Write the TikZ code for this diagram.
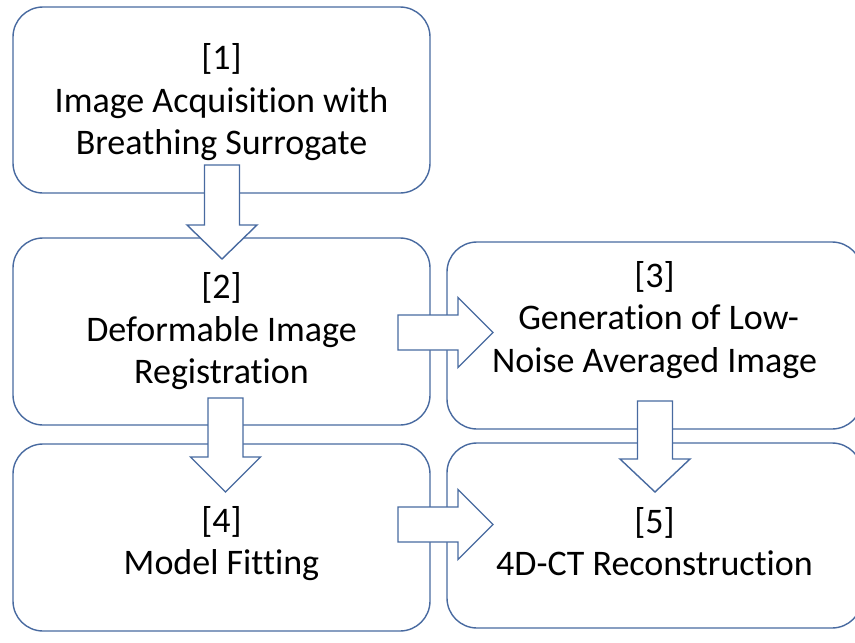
\documentclass[tikz,border=0pt]{standalone}
\usepackage{fontspec}
\setmainfont{Carlito}[Ligatures={NoCommon}]
\definecolor{edge}{RGB}{72,106,160}
\newcommand\downblock[4]{%
  \draw[blockarrow] (#1-17.5,#2) -- (#1+17.5,#2) -- (#1+17.5,#3) -- (#1+35,#3) -- (#1,#4) -- (#1-35,#3) -- (#1-17.5,#3) -- cycle;}
\newcommand\rightblock[4]{%
  \draw[blockarrow] (#2,#1-17.5) -- (#2,#1+17.5) -- (#3,#1+17.5) -- (#3,#1+35) -- (#4,#1) -- (#3,#1-35) -- (#3,#1-17.5) -- cycle;}
\begin{document}
\begin{tikzpicture}[x=1pt,y=-1pt,
  box/.style={draw=edge, line width=1.4pt, rounded corners=30pt, fill=white,
    align=center, inner sep=0pt, font=\fontsize{36}{42.5}\selectfont},
  blockarrow/.style={draw=edge, line width=1.4pt, fill=white, line join=miter}]
\useasboundingbox (0,0) rectangle (855,643);
\node[box, minimum width=417pt, minimum height=186pt] (b1) at (221.5,100)
  {\rule{0pt}{31pt}[1]\\Image Acquisition with\\Breathing Surrogate};
\node[box, minimum width=417pt, minimum height=187pt] (b2) at (221.5,331.5)
  {[2]\\Deformable Image\\Registration};
\node[box, minimum width=415pt, minimum height=187pt] (b3) at (654.5,335.5)
  {\rule{0pt}{31pt}[3]\\\ Generation of Low-\\Noise Averaged Image\\\mbox{}};
\node[box, minimum width=417pt, minimum height=187pt] (b4) at (221.5,537.5)
  {\rule{0pt}{38pt}[4]\\Model Fitting};
\node[box, minimum width=415pt, minimum height=185pt] (b5) at (654.5,535.5)
  {\rule{0pt}{38pt}[5]\\4D-CT Reconstruction};
% block arrows
\downblock{222}{165}{225}{259}
\downblock{225.5}{398}{457}{492}
\downblock{655}{401}{459}{492}
\rightblock{332.5}{398}{458}{493}
\rightblock{524.5}{398}{458}{493}
\end{tikzpicture}
\end{document}
